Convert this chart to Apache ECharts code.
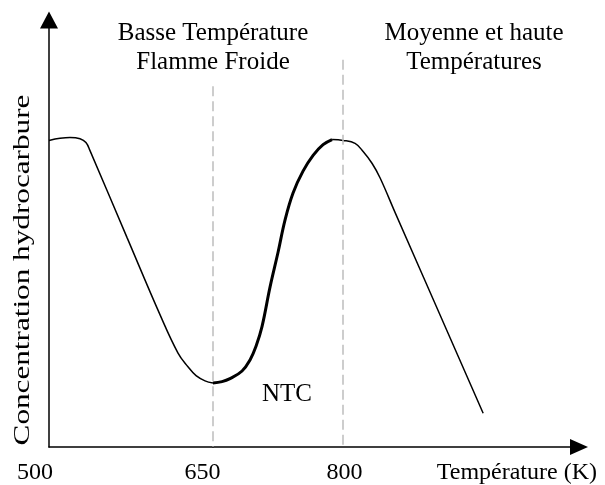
<!DOCTYPE html>
<html>
<head>
<meta charset="utf-8">
<script src="https://cdn.jsdelivr.net/npm/echarts@6/dist/echarts.min.js"></script>
<style>html,body{margin:0;padding:0;background:#fff}#c{width:605px;height:485px}</style>
</head>
<body>
<div id="c"></div>
<script>
// Temperature (K) and relative hydrocarbon concentration (arbitrary units, 0-100)
const lowTemps  = [500, 510.1, 519.2, 528.4, 533.8, 537.5, 571.3, 601.5, 618.0, 627.1, 634.5, 642.7, 650];
const lowConc   = [71.8, 72.3, 72.5, 72.2, 71.3, 69.4, 49.1, 31.0, 22.0, 18.8, 16.7, 15.5, 15.0];
const ntcTemps  = [650, 660.4, 669.6, 683.5, 692.7, 699.6, 706.5, 715.8, 725.0, 733.1, 742.3, 753.8, 765.4, 776.9, 787.3];
const ntcConc   = [15.0, 15.3, 16.0, 17.8, 20.4, 23.6, 28.2, 37.5, 45.6, 53.2, 59.5, 64.6, 68.3, 70.8, 72.0];
const highTemps = [787.3, 800, 813.8, 823.1, 833.5, 842.7, 860.0, 961.5];
const highConc  = [72.0, 71.8, 71.1, 69.2, 66.4, 63.0, 54.9, 7.9];
const tickLow   = [500];
const tickHigh  = [650, 800];
const dividers  = [650, 800];
const dividerTop = [84.5, 90.7];

const zip = (a, b) => a.map((v, i) => [v, b[i]]);
const FONT = 'Liberation Serif';
const axisCol = '#000';

const chart = echarts.init(document.getElementById('c'));
chart.setOption({
  animation: false,
  backgroundColor: '#fff',
  grid: [
    {left: 49, right: 392, top: 20, bottom: 33},
    {left: 213, right: 26, top: 20, bottom: 33}
  ],
  xAxis: [
    {
      type: 'value', gridIndex: 0, min: 500, max: 650,
      axisLine: {show: true, lineStyle: {color: axisCol, width: 1.5}},
      axisTick: {show: false}, splitLine: {show: false},
      axisLabel: {customValues: tickLow, margin: 14, fontFamily: FONT, fontSize: 24, color: '#000',
        formatter: v => '{a|' + v + '}',
        rich: {a: {fontFamily: FONT, fontSize: 24, color: '#000', padding: [0, 28, 0, 0]}}}
    },
    {
      type: 'value', gridIndex: 1, min: 650, max: 1072,
      axisLine: {show: true, symbol: ['none', 'triangle'], symbolSize: [16, 18], lineStyle: {color: axisCol, width: 1.5}},
      axisTick: {show: false}, splitLine: {show: false},
      axisLabel: {customValues: tickHigh, margin: 14, fontFamily: FONT, fontSize: 24, color: '#000',
        formatter: v => v === 650 ? '{b|' + v + '}' : '{c|' + v + '}',
        rich: {b: {fontFamily: FONT, fontSize: 24, color: '#000', padding: [0, 21, 0, 0]},
               c: {fontFamily: FONT, fontSize: 24, color: '#000', padding: [0, 0, 0, 3]}}},
      name: 'Température (K)', nameLocation: 'end', nameGap: 18,
      nameTextStyle: {fontFamily: FONT, fontSize: 24, color: '#000', align: 'right', verticalAlign: 'top', padding: [14, 0, 0, 0]}
    }
  ],
  yAxis: [
    {
      type: 'value', gridIndex: 0, min: 0, max: 100,
      axisLine: {show: true, symbol: ['none', 'triangle'], symbolSize: [18, 17], lineStyle: {color: axisCol, width: 1.5}},
      axisTick: {show: false}, axisLabel: {show: false}, splitLine: {show: false}
    },
    {type: 'value', gridIndex: 1, min: 0, max: 100, show: false}
  ],
  series: [
    {
      type: 'line', xAxisIndex: 0, yAxisIndex: 0, data: zip(lowTemps, lowConc),
      smooth: 0.4, showSymbol: false, lineStyle: {color: '#000', width: 1.5}
    },
    {
      type: 'line', xAxisIndex: 1, yAxisIndex: 1, data: zip(ntcTemps, ntcConc),
      smooth: 0.4, showSymbol: false, lineStyle: {color: '#000', width: 3}, z: 3,
      markLine: {
        silent: true, symbol: ['none', 'none'], label: {show: false},
        lineStyle: {color: '#bdbdbd', width: 1.5, type: [10, 5]},
        data: dividers.map((d, i) => [{coord: [d, dividerTop[i]]}, {coord: [d, 0]}])
      }
    },
    {
      type: 'line', xAxisIndex: 1, yAxisIndex: 1, data: zip(highTemps, highConc),
      smooth: 0.4, showSymbol: false, lineStyle: {color: '#000', width: 1.5}
    }
  ],
  graphic: [
    {type: 'text', x: 23, y: 270, rotation: Math.PI / 2, scaleX: 1.3,
     style: {text: 'Concentration hydrocarbure', fontFamily: FONT, fontSize: 24, fill: '#000', align: 'center', verticalAlign: 'middle'}},
    {type: 'text', x: 213, y: 19, style: {text: 'Basse Température\nFlamme Froide', fontFamily: FONT, fontSize: 25, lineHeight: 29, fill: '#000', align: 'center', verticalAlign: 'top'}},
    {type: 'text', x: 474, y: 19, style: {text: 'Moyenne et haute\nTempératures', fontFamily: FONT, fontSize: 25, lineHeight: 29, fill: '#000', align: 'center', verticalAlign: 'top'}},
    {type: 'text', x: 287, y: 394, style: {text: 'NTC', fontFamily: FONT, fontSize: 25, fill: '#000', align: 'center', verticalAlign: 'middle'}}
  ]
});
</script>
</body>
</html>
